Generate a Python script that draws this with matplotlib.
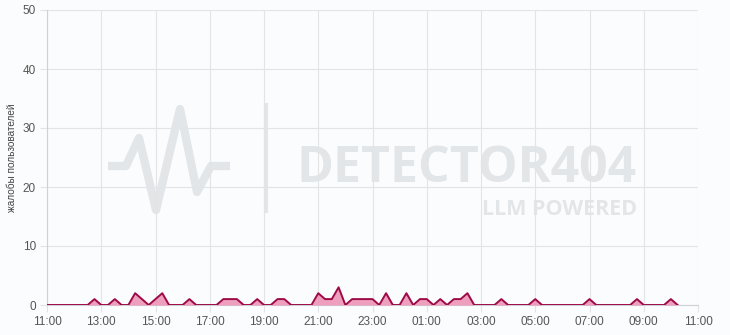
import numpy as np
import pandas as pd
import matplotlib
matplotlib.use("Agg")
import matplotlib.pyplot as plt
import matplotlib.dates as mdates

# complaints per 15 minutes, 11:00 -> 10:15 next day (one row = 2 hours)
counts = [
    0, 0, 0, 0, 0, 0, 0, 1,   # 11:00
    0, 0, 1, 0, 0, 2, 1, 0,   # 13:00
    1, 2, 0, 0, 0, 1, 0, 0,   # 15:00
    0, 0, 1, 1, 1, 0, 0, 1,   # 17:00
    0, 0, 1, 1, 0, 0, 0, 0,   # 19:00
    2, 1, 1, 3, 0, 1, 1, 1,   # 21:00
    1, 0, 2, 0, 0, 2, 0, 1,   # 23:00
    1, 0, 1, 0, 1, 1, 2, 0,   # 01:00
    0, 0, 0, 1, 0, 0, 0, 0,   # 03:00
    1, 0, 0, 0, 0, 0, 0, 0,   # 05:00
    1, 0, 0, 0, 0, 0, 0, 1,   # 07:00
    0, 0, 0, 0, 1, 0,         # 09:00
]
start = "2024-05-01 11:00"
end_axis = "2024-05-02 11:00"
y_ticks = [0, 10, 20, 30, 40, 50]
y_label = "жалобы пользователей"

times = pd.date_range(start, periods=len(counts), freq="15min")

plt.rcParams["font.family"] = ["Liberation Sans", "DejaVu Sans"]
bg = "#fbfcfd"
grid_c = "#e2e4e6"

fig = plt.figure(figsize=(7.3, 3.35), dpi=100, facecolor=bg)
ax = fig.add_axes([47 / 730, 30 / 335, 651 / 730, 295 / 335])
ax.patch.set_alpha(0)

# watermark (logo behind the plot)
wm = "#e3e6e9"
fig.add_artist(plt.Line2D(np.array([108, 126, 139, 156, 180, 197, 211, 230]) / 730,
                          1 - np.array([166, 166, 138, 210, 109, 192, 166, 166]) / 335,
                          transform=fig.transFigure, color=wm, lw=6,
                          solid_joinstyle="round", solid_capstyle="butt", zorder=-1))
fig.add_artist(plt.Line2D([266 / 730, 266 / 730], [1 - 105 / 335, 1 - 211 / 335],
                          transform=fig.transFigure, color=wm, lw=3, zorder=-1))
fig.text(637 / 730, 1 - 182 / 335, "DETECTOR404", ha="right", va="baseline",
         fontsize=36, fontweight="bold", family="Open Sans", color=wm, zorder=-1)
fig.text(637 / 730, 1 - 199 / 335, "LLM POWERED", ha="right", va="top",
         fontsize=15.5, fontweight="bold", family="Open Sans", color=wm, zorder=-1)

ax.fill_between(times, counts, 0, color="#ee8fb3", alpha=0.85, lw=0, zorder=3)
ax.plot(times, counts, color="#9e0a48", lw=1.4, zorder=4)

ax.set_xlim(pd.Timestamp(start), pd.Timestamp(end_axis))
ax.set_ylim(0, 50)
ax.set_yticks(y_ticks)
ax.xaxis.set_major_locator(mdates.HourLocator(byhour=range(1, 24, 2)))
ax.xaxis.set_major_formatter(mdates.DateFormatter("%H:%M"))

ax.grid(True, color=grid_c, lw=0.8, zorder=1)
ax.set_axisbelow(True)
for s in ["top", "right"]:
    ax.spines[s].set_visible(False)
for s in ["left", "bottom"]:
    ax.spines[s].set_color("#cfd2d5")
    ax.spines[s].set_linewidth(0.8)
ax.tick_params(axis="both", colors=grid_c, labelcolor="#555555", labelsize=8.5,
               length=5, width=0.8)
ax.tick_params(axis="x", pad=3)
ax.tick_params(axis="y", pad=3)
ax.set_ylabel(y_label, fontsize=7.2, color="#444444", labelpad=4)

fig.savefig("out.png", dpi=100, facecolor=bg)
